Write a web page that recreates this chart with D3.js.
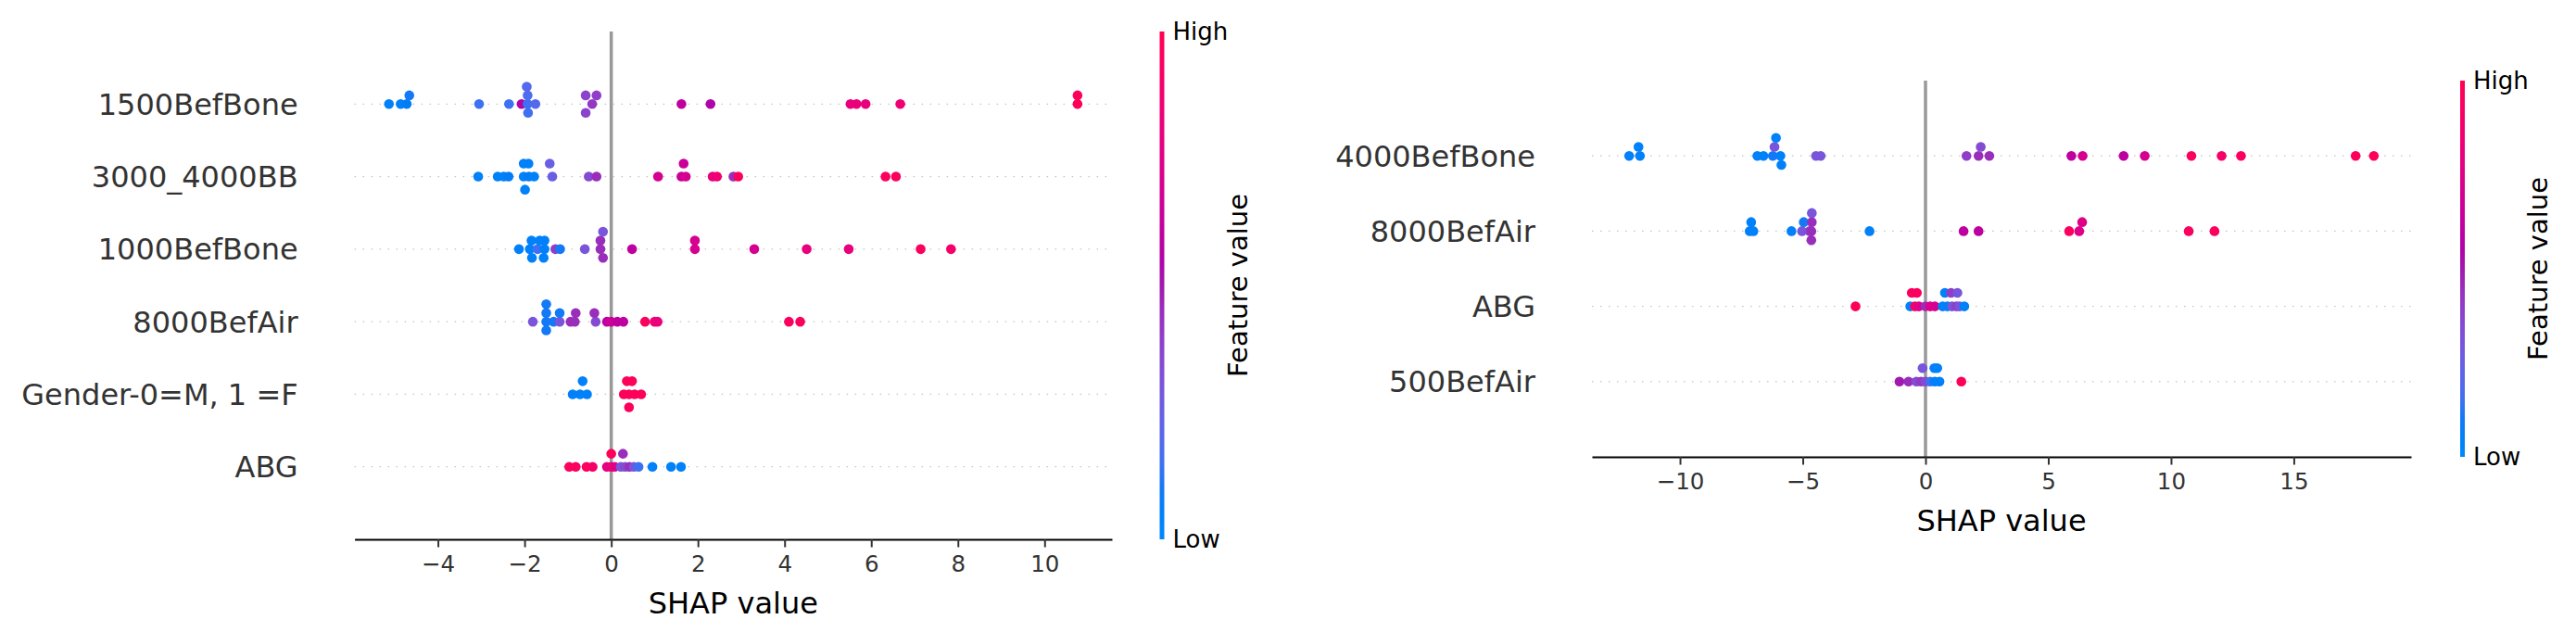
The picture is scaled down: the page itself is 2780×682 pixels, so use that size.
<!DOCTYPE html>
<html>
<head>
<meta charset="utf-8">
<script src="https://cdn.jsdelivr.net/npm/d3@7"></script>
<style>
  body { margin: 0; background: #fff; }
  text { font-family: "DejaVu Sans", sans-serif; }
</style>
</head>
<body>
<svg id="plot"></svg>
<script>
// Data: each point is [SHAP value, feature value (0 = low, 1 = high), swarm layer]
const leftFeatures = ["1500BefBone", "3000_4000BB", "1000BefBone", "8000BefAir", "Gender-0=M, 1 =F", "ABG"];
const leftTicks = [-4, -2, 0, 2, 4, 6, 8, 10];

const l1500BefBone = [
  [-5.13, 0.05, 0], [-4.86, 0.05, 0], [-4.72, 0.08, 0], [-4.66, 0.1, 1],
  [-3.05, 0.15, 0], [-2.36, 0.15, 0], [-2.07, 0.55, 0], [-1.93, 0.15, 0],
  [-1.93, 0.18, 1], [-1.95, 0.2, 2], [-1.92, 0.15, -1], [-1.75, 0.2, 0],
  [-0.59, 0.38, 1], [-0.34, 0.4, 1], [-0.44, 0.42, 0], [-0.59, 0.38, -1],
  [1.62, 0.6, 0], [2.29, 0.55, 0], [5.52, 0.8, 0], [5.66, 0.82, 0],
  [5.87, 0.8, 0], [6.67, 0.85, 0], [10.76, 0.97, 0], [10.76, 0.97, 1]
];
const l3000_4000BB = [
  [-3.07, 0.05, 0], [-2.62, 0.05, 0], [-2.48, 0.05, 0], [-2.37, 0.08, 0],
  [-2.02, 0.05, 0], [-1.9, 0.08, 0], [-1.78, 0.05, 0],
  [-2.02, 0.05, 1], [-1.91, 0.05, 1], [-1.99, 0.05, -1],
  [-1.42, 0.25, 1], [-1.36, 0.25, 0], [-0.52, 0.35, 0], [-0.34, 0.45, 0],
  [1.08, 0.7, 0], [1.62, 0.65, 0], [1.72, 0.7, 0], [1.67, 0.65, 1],
  [2.34, 0.8, 0], [2.44, 0.85, 0], [2.82, 0.45, 0], [2.93, 0.95, 0],
  [6.33, 0.95, 0], [6.57, 0.95, 0]
];
const l1000BefBone = [
  [-2.13, 0.05, 0], [-1.88, 0.05, 0], [-1.7, 0.15, 0], [-1.54, 0.05, 0],
  [-1.29, 0.4, 0], [-1.18, 0.1, 0], [-0.61, 0.3, 0], [-0.25, 0.45, 0],
  [-1.84, 0.05, 1], [-1.65, 0.05, 1], [-1.54, 0.05, 1], [-0.25, 0.45, 1],
  [-0.19, 0.3, 2], [-1.83, 0.05, -1], [-1.56, 0.05, -1], [-0.19, 0.45, -1],
  [0.48, 0.6, 0], [1.93, 0.7, 0], [1.93, 0.7, 1], [3.3, 0.7, 0],
  [4.51, 0.8, 0], [5.48, 0.8, 0], [7.14, 0.95, 0], [7.84, 0.9, 0]
];
const l8000BefAir = [
  [-1.81, 0.3, 0], [-1.5, 0.1, 0], [-1.33, 0.1, 0], [-1.19, 0.3, 0],
  [-0.94, 0.45, 0], [-0.84, 0.45, 0], [-0.36, 0.35, 0], [-0.1, 0.6, 0],
  [0.0, 0.65, 0], [0.14, 0.6, 0], [0.28, 0.6, 0], [0.78, 0.95, 0],
  [1.0, 0.85, 0], [1.07, 0.8, 0], [4.1, 0.95, 0], [4.36, 0.95, 0],
  [-1.5, 0.1, 1], [-1.19, 0.1, 1], [-0.82, 0.45, 1], [-0.39, 0.45, 1],
  [-1.5, 0.1, 2], [-1.5, 0.1, -1]
];
const lGender = [
  [-0.89, 0.05, 0], [-0.72, 0.05, 0], [-0.56, 0.05, 0], [-0.66, 0.05, 1],
  [0.29, 0.97, 0], [0.41, 0.97, 0], [0.54, 0.97, 0], [0.69, 0.97, 0],
  [0.36, 0.97, 1], [0.48, 0.97, 1], [0.41, 0.97, -1]
];
const lABG = [
  [-0.97, 0.95, 0], [-0.82, 0.95, 0], [-0.57, 0.95, 0], [-0.43, 0.9, 0],
  [-0.1, 0.75, 0], [0.0, 0.85, 0], [0.08, 0.75, 0], [0.22, 0.3, 0],
  [0.32, 0.35, 0], [0.42, 0.45, 0], [0.52, 0.3, 0], [0.63, 0.15, 0],
  [0.95, 0.05, 0], [1.38, 0.05, 0], [1.61, 0.05, 0],
  [0.0, 0.97, 1], [0.27, 0.45, 1]
];
const leftPoints = [l1500BefBone, l3000_4000BB, l1000BefBone, l8000BefAir, lGender, lABG];

const rightFeatures = ["4000BefBone", "8000BefAir", "ABG", "500BefAir"];
const rightTicks = [-10, -5, 0, 5, 10, 15];

const r4000BefBone = [
  [-12.07, 0.05, 0], [-11.63, 0.05, 0], [-6.85, 0.05, 0], [-6.6, 0.05, 0],
  [-6.22, 0.1, 0], [-5.91, 0.05, 0], [-4.46, 0.3, 0], [-4.27, 0.3, 0],
  [1.67, 0.4, 0], [2.16, 0.45, 0], [2.6, 0.45, 0], [5.94, 0.6, 0],
  [6.4, 0.7, 0], [8.07, 0.6, 0], [8.93, 0.7, 0], [10.83, 0.95, 0],
  [12.06, 0.9, 0], [12.85, 0.95, 0], [17.52, 0.97, 0], [18.26, 0.97, 0],
  [-11.69, 0.05, 1], [-6.15, 0.3, 1], [2.25, 0.35, 1],
  [-6.09, 0.05, 2], [-5.87, 0.05, -1]
];
const r8000BefAir = [
  [-7.16, 0.05, 0], [-7.01, 0.05, 0], [-5.46, 0.05, 0], [-5.03, 0.3, 0],
  [-4.72, 0.35, 0], [-4.65, 0.45, 0], [-2.28, 0.05, 0], [1.55, 0.6, 0],
  [2.16, 0.6, 0], [5.85, 0.95, 0], [6.26, 0.75, 0], [10.72, 0.95, 0],
  [11.77, 0.95, 0],
  [-7.1, 0.05, 1], [-4.96, 0.1, 1], [-4.63, 0.45, 1], [6.38, 0.75, 1],
  [-4.63, 0.3, 2], [-4.65, 0.45, -1]
];
const rABG = [
  [-2.85, 0.97, 0], [-0.62, 0.05, 0], [-0.43, 0.9, 0], [-0.27, 0.75, 0],
  [0.0, 0.45, 0], [0.19, 0.75, 0], [0.38, 0.7, 0], [0.7, 0.05, 0],
  [0.89, 0.05, 0], [1.08, 0.3, 0], [1.26, 0.4, 0], [1.39, 0.3, 0],
  [1.58, 0.05, 0],
  [-0.56, 0.95, 1], [-0.35, 0.95, 1], [0.79, 0.05, 1], [1.04, 0.4, 1], [1.3, 0.3, 1]
];
const r500BefAir = [
  [-1.06, 0.5, 0], [-0.69, 0.45, 0], [-0.37, 0.35, 0], [-0.18, 0.42, 0],
  [0.0, 0.35, 0], [0.19, 0.15, 0], [0.38, 0.05, 0], [0.57, 0.05, 0],
  [1.46, 0.97, 0],
  [-0.12, 0.3, 1], [0.36, 0.05, 1], [0.48, 0.05, 1]
];
const rightPoints = [r4000BefBone, r8000BefAir, rABG, r500BefAir];

// Canvas
const width = 2780;
const height = 682;
const svg = d3.select("#plot").attr("width", width).attr("height", height);
svg.append("rect").attr("width", width).attr("height", height).attr("fill", "#fff");

// shap-style red/blue map: walk through LCH, darker in the middle
const colorInterp = (t) => {
  const l = t < 0.5 ? 54 - 28 * t : 40 + 28 * (t - 0.5);
  const c = 70 + 20 * t;
  const h = 266.93 + (380.32 - 266.93) * t;
  return d3.hcl(h, c, l).formatHex();
};
const color = d3.scaleSequential(colorInterp).domain([0, 1]);

// gradient for the colour bars
const grad = svg.append("defs").append("linearGradient")
  .attr("id", "cbar").attr("x1", 0).attr("y1", 1).attr("x2", 0).attr("y2", 0);
d3.range(0, 1.0001, 0.05).forEach((t) => {
  grad.append("stop").attr("offset", t).attr("stop-color", colorInterp(t));
});

summaryPlot = (features, points, ticks, box) => {
  const n = features.length;
  const g = svg.append("g");

  // x domain: data extent plus matplotlib's 5% margin
  const all = points.flat().map((d) => d[0]);
  const [lo, hi] = d3.extent(all);
  const pad = (hi - lo) * 0.05;
  const xScale = d3.scaleLinear().domain([lo - pad, hi + pad]).range([box.left, box.right]);
  const yScale = d3.scaleLinear().domain([-1, n]).range([box.bottom, box.top]);

  // row guide lines
  features.forEach((f, i) => {
    const pos = n - 1 - i;
    g.append("line")
      .attr("x1", box.left).attr("x2", box.right)
      .attr("y1", yScale(pos)).attr("y2", yScale(pos))
      .attr("stroke", "#c4c4c4").attr("stroke-width", 1.3)
      .attr("stroke-dasharray", "1.5,7.5");
  });

  // zero line
  g.append("line")
    .attr("x1", xScale(0)).attr("x2", xScale(0))
    .attr("y1", yScale(n)).attr("y2", yScale(-1))
    .attr("stroke", "#999").attr("stroke-width", 3.5);

  // dots
  points.forEach((pts, i) => {
    const pos = n - 1 - i;
    const maxLayer = d3.max(pts, (d) => d[2]);
    const unit = (0.9 * 0.4) / (maxLayer + 1);
    g.append("g").selectAll("circle")
      .data(pts)
      .join("circle")
      .attr("cx", (d) => xScale(d[0]))
      .attr("cy", (d) => yScale(pos + d[2] * unit))
      .attr("r", 5.3)
      .attr("fill", (d) => color(d[1]));
  });

  // y labels
  features.forEach((f, i) => {
    const pos = n - 1 - i;
    g.append("text")
      .attr("x", box.left - 61)
      .attr("y", yScale(pos))
      .attr("dy", "0.36em")
      .attr("text-anchor", "end")
      .attr("font-size", 32)
      .attr("fill", "#333")
      .text(f);
  });

  // x axis
  const xAxis = d3.axisBottom(xScale).tickValues(ticks).tickSize(8.5).tickSizeOuter(0).tickPadding(9);
  const xAxisG = g.append("g").attr("transform", `translate(0,${box.bottom})`).call(xAxis);
  xAxisG.select(".domain").attr("stroke", "#000").attr("stroke-width", 2.2);
  xAxisG.selectAll(".tick line").attr("stroke", "#333").attr("stroke-width", 2);
  xAxisG.selectAll(".tick text")
    .attr("font-size", 24.5).attr("fill", "#333")
    .attr("font-family", "DejaVu Sans, sans-serif");
  g.append("text")
    .attr("x", (box.left + box.right) / 2)
    .attr("y", box.bottom + 68)
    .attr("dy", "0.36em")
    .attr("text-anchor", "middle")
    .attr("font-size", 32)
    .attr("fill", "#000")
    .text("SHAP value");

  // colour bar
  const cTop = yScale(n);
  const cBot = yScale(-1);
  g.append("rect")
    .attr("x", box.cbar).attr("y", cTop)
    .attr("width", 5).attr("height", cBot - cTop)
    .attr("fill", "url(#cbar)");
  g.append("text")
    .attr("x", box.cbar + 14).attr("y", cTop).attr("dy", "0.36em")
    .attr("font-size", 26).attr("fill", "#000").text("High");
  g.append("text")
    .attr("x", box.cbar + 14).attr("y", cBot).attr("dy", "0.36em")
    .attr("font-size", 26).attr("fill", "#000").text("Low");
  g.append("text")
    .attr("transform", `translate(${box.cbar + 84},${(cTop + cBot) / 2}) rotate(-90)`)
    .attr("dy", "0.36em")
    .attr("text-anchor", "middle")
    .attr("font-size", 29)
    .attr("fill", "#000")
    .text("Feature value");
};

summaryPlot(leftFeatures, leftPoints, leftTicks,
  { left: 382.6, right: 1200, top: 34, bottom: 582, cbar: 1251.5 });
summaryPlot(rightFeatures, rightPoints, rightTicks,
  { left: 1718, right: 2602, top: 87, bottom: 493, cbar: 2655 });
</script>
</body>
</html>
